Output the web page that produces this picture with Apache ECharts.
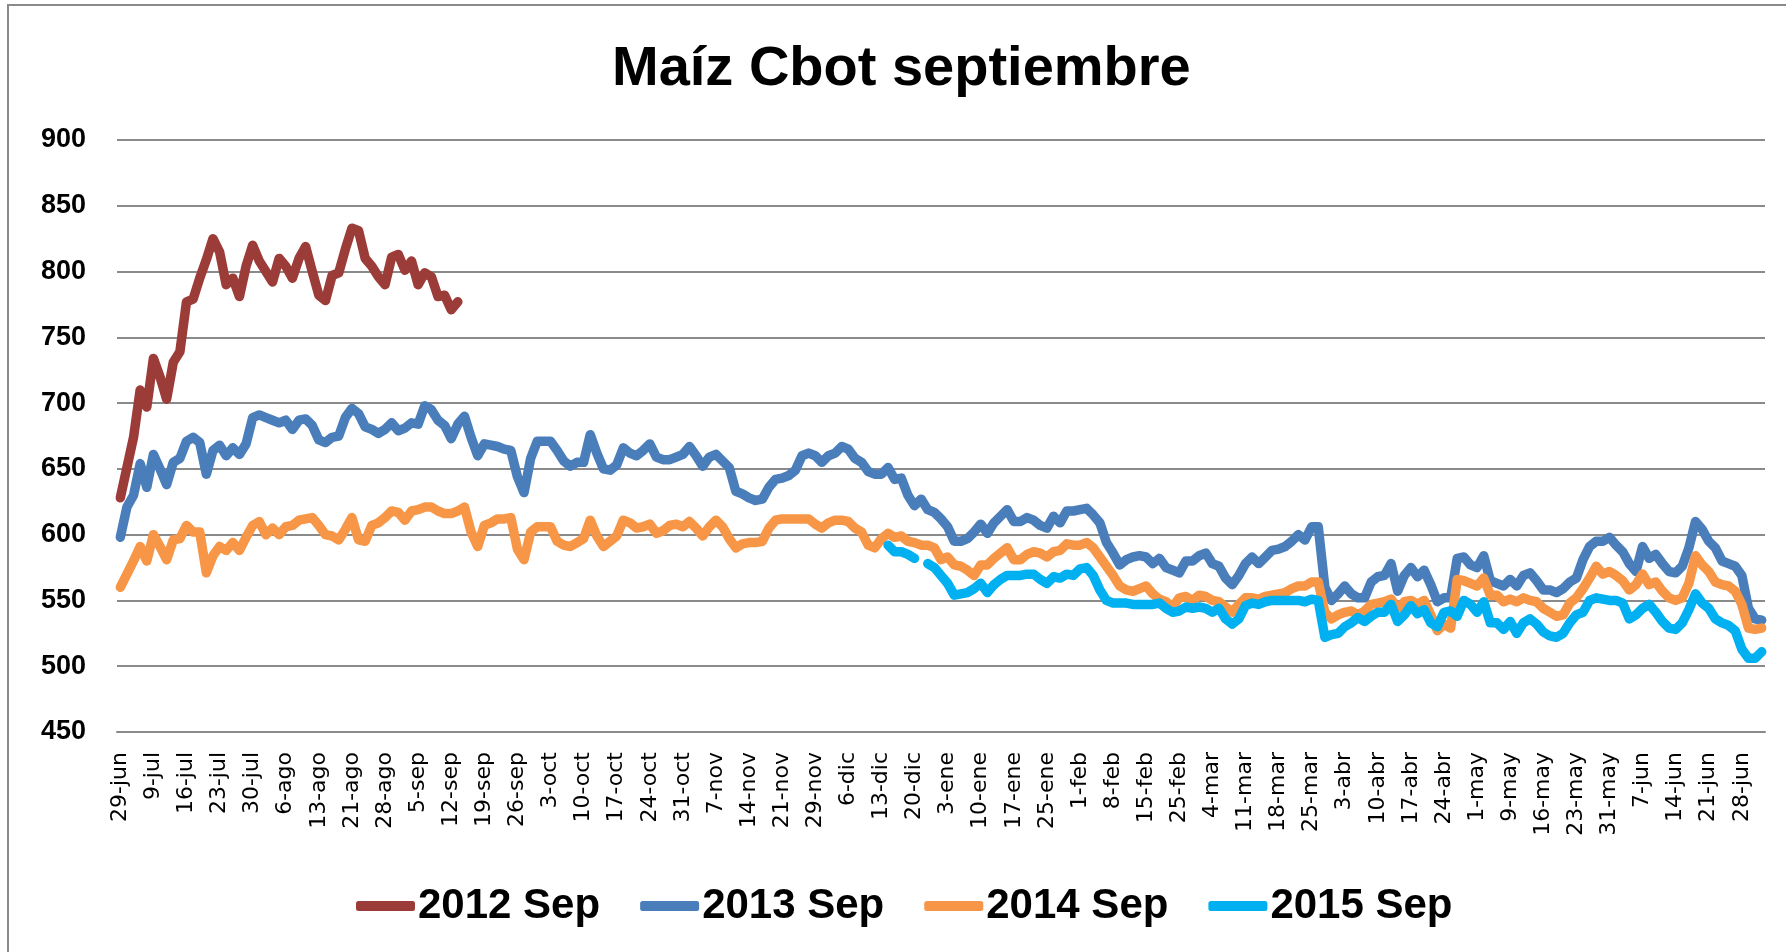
<!DOCTYPE html>
<html>
<head>
<meta charset="utf-8">
<title>Maíz Cbot septiembre</title>
<script src="https://cdn.jsdelivr.net/npm/echarts/dist/echarts.min.js"></script>
<style>
  html, body { margin: 0; padding: 0; background: #fff; }
  #chart { width: 1786px; height: 952px; }
</style>
</head>
<body>
<div id="chart"></div>
<script>
  // etiquetas del eje x (una cada 5 ruedas)
  const tickLabels = ['29-jun', '9-jul', '16-jul', '23-jul', '30-jul', '6-ago', '13-ago', '21-ago', '28-ago', '5-sep',
    '12-sep', '19-sep', '26-sep', '3-oct', '10-oct', '17-oct', '24-oct', '31-oct', '7-nov', '14-nov',
    '21-nov', '29-nov', '6-dic', '13-dic', '20-dic', '3-ene', '10-ene', '17-ene', '25-ene', '1-feb',
    '8-feb', '15-feb', '25-feb', '4-mar', '11-mar', '18-mar', '25-mar', '3-abr', '10-abr', '17-abr',
    '24-abr', '1-may', '9-may', '16-may', '23-may', '31-may', '7-jun', '14-jun', '21-jun', '28-jun']
  const dayCount = 249

  const sep2012 = [628, 651, 674, 710, 697, 734, 720, 703, 731, 739, 777, 779, 795, 809, 825, 815, 790, 795, 781, 804,
    820, 808, 800, 792, 810, 804, 795, 810, 819, 800, 782, 778, 797, 799, 817, 833, 831, 810, 804, 796,
    790, 811, 813, 801, 808, 790, 799, 796, 781, 782, 771, 777]

  const sep2013 = [598, 621, 630, 654, 636, 661, 650, 638, 655, 658, 671, 674, 670, 646, 664, 668, 660, 666, 661, 669,
    689, 691, 689, 687, 685, 687, 680, 687, 688, 683, 672, 670, 674, 675, 689, 696, 692, 682, 680, 677,
    680, 685, 679, 681, 685, 684, 698, 695, 687, 683, 673, 684, 690, 674, 660, 669, 668, 667, 665, 664,
    644, 632, 658, 671, 671, 671, 664, 656, 652, 655, 655, 676, 662, 650, 649, 653, 666, 662, 660, 664,
    669, 659, 657, 657, 659, 661, 667, 660, 652, 659, 661, 656, 651, 633, 631, 628, 626, 627, 636, 642,
    643, 645, 649, 660, 662, 660, 655, 660, 662, 667, 665, 658, 655, 648, 646, 646, 651, 642, 643, 630,
    622, 627, 619, 617, 612, 606, 595, 595, 597, 602, 608, 601, 609, 614, 619, 610, 610, 613, 611, 607,
    605, 614, 609, 618, 618, 619, 620, 615, 609, 594, 586, 577, 581, 583, 584, 583, 578, 582, 575, 573,
    571, 580, 580, 584, 586, 578, 576, 567, 562, 569, 578, 583, 578, 583, 588, 589, 591, 595, 600, 596,
    606, 606, 560, 550, 555, 561, 555, 552, 552, 564, 568, 569, 578, 557, 569, 575, 568, 573, 562, 549,
    552, 552, 582, 583, 577, 575, 584, 565, 563, 561, 566, 561, 569, 571, 565, 558, 558, 556, 559, 564,
    567, 581, 591, 595, 595, 598, 592, 587, 578, 572, 591, 582, 585, 578, 572, 571, 576, 590, 610, 604,
    595, 590, 580, 578, 576, 569, 544, 536, 535]

  const sep2014 = [560, 570, 580, 591, 580, 600, 591, 581, 596, 597, 607, 602, 602, 571, 584, 591, 588, 594, 588, 598,
    607, 610, 600, 605, 600, 606, 607, 611, 612, 613, 607, 600, 599, 596, 604, 613, 596, 595, 607, 609,
    613, 618, 617, 611, 618, 619, 621, 621, 618, 616, 616, 618, 621, 602, 591, 607, 609, 612, 612, 613,
    589, 581, 602, 606, 606, 606, 595, 592, 591, 594, 597, 611, 599, 591, 595, 599, 611, 609, 605, 606,
    608, 601, 603, 607, 608, 606, 610, 605, 599, 606, 611, 606, 597, 590, 593, 594, 594, 595, 605, 611,
    612, 612, 612, 612, 612, 608, 605, 609, 611, 611, 610, 605, 602, 592, 590, 597, 601, 598, 599, 595,
    594, 592, 592, 590, 581, 583, 577, 576, 573, 569, 577, 577, 582, 586, 590, 581, 581, 585, 587, 586,
    583, 587, 588, 593, 592, 592, 594, 590, 583, 576, 569, 561, 558, 557, 559, 561, 555, 551, 549, 545,
    552, 553, 550, 554, 553, 550, 549, 545, 541, 547, 552, 552, 551, 553, 554, 555, 556, 559, 561, 561,
    564, 564, 541, 536, 539, 541, 542, 539, 542, 547, 548, 549, 551, 544, 549, 550, 547, 550, 539, 527,
    532, 529, 566, 565, 563, 561, 567, 554, 554, 549, 551, 549, 552, 550, 549, 544, 541, 538, 539, 548,
    552, 559, 567, 576, 570, 572, 569, 565, 558, 562, 570, 562, 564, 557, 552, 550, 552, 563, 584, 577,
    572, 564, 562, 561, 557, 547, 529, 528, 529]

  // 2015 empieza más tarde (null = sin cotización)
  const start2015 = 116
  const sep2015 = [592, 587, 587, 585, 582, null, 578, 575, 569, 563, 554, 555, 556, 559, 563, 556, 562, 566, 569, 569,
    569, 570, 570, 566, 563, 568, 567, 570, 569, 574, 575, 569, 558, 550, 548, 548, 548, 547, 547, 547,
    547, 548, 544, 541, 542, 545, 544, 545, 544, 541, 544, 536, 532, 536, 546, 548, 547, 549, 550, 550,
    550, 550, 550, 549, 551, 550, 522, 524, 525, 530, 533, 537, 534, 538, 541, 541, 547, 534, 539, 546,
    540, 543, 533, 530, 541, 542, 538, 550, 547, 541, 549, 533, 533, 528, 534, 525, 533, 536, 532, 526,
    523, 522, 525, 533, 539, 541, 550, 552, 551, 550, 550, 548, 536, 539, 544, 547, 541, 534, 529, 528,
    533, 543, 555, 548, 544, 536, 533, 531, 527, 513, 506, 506, 511]

  const yTicks = { min: 450, max: 900, step: 50 }

  const categories = []
  for (let i = 0; i < dayCount; i++) {
    categories.push(i % 5 === 0 ? tickLabels[i / 5] : ' '.repeat(1 + (i % 5)) + i)
  }
  const data2015 = new Array(start2015).fill(null).concat(sep2015)

  const chart = echarts.init(document.getElementById('chart'))

  const lineSeries = (name, data, color) => ({
    name: name,
    type: 'line',
    data: data,
    symbol: 'none',
    connectNulls: false,
    animation: false,
    itemStyle: { color: color },
    lineStyle: { color: color, width: 9.5, cap: 'round', join: 'round' }
  })

  chart.setOption({
    backgroundColor: '#fff',
    title: {
      text: 'Maíz Cbot septiembre',
      left: 607,
      top: 37,
      textStyle: {
        fontFamily: 'Liberation Sans',
        fontWeight: 'bold',
        fontSize: 56,
        color: '#000'
      }
    },
    graphic: [{
      type: 'polyline',
      shape: { points: [[8, 952], [8, 5], [1786, 5]] },
      style: { stroke: '#8a8a8a', lineWidth: 2, fill: null }
    }],
    legend: {
      data: ['2012 Sep', '2013 Sep', '2014 Sep', '2015 Sep'],
      left: 351,
      top: 880,
      icon: 'roundRect',
      itemWidth: 59,
      itemHeight: 10,
      itemGap: 40,
      textStyle: {
        fontFamily: 'Liberation Sans',
        fontWeight: 'bold',
        fontSize: 42,
        color: '#000',
        padding: [0, 0, 0, -2]
      }
    },
    grid: {
      left: 117,
      right: 21,
      top: 140,
      bottom: 220,
      containLabel: false
    },
    xAxis: {
      type: 'category',
      data: categories,
      boundaryGap: true,
      axisLine: { show: true, lineStyle: { color: '#8a8a8a', width: 2 } },
      axisTick: { show: false },
      axisLabel: {
        interval: 4,
        rotate: 90,
        margin: 20,
        fontFamily: 'DejaVu Sans',
        fontSize: 22,
        color: '#000'
      }
    },
    yAxis: {
      type: 'value',
      min: yTicks.min,
      max: yTicks.max,
      interval: yTicks.step,
      axisLine: { show: false },
      axisTick: { show: false },
      splitLine: { lineStyle: { color: '#8a8a8a', width: 2 } },
      axisLabel: {
        margin: 31,
        fontFamily: 'Liberation Sans',
        fontWeight: 'bold',
        fontSize: 27,
        color: '#000'
      }
    },
    series: [
      lineSeries('2012 Sep', sep2012, '#9c3c39'),
      lineSeries('2013 Sep', sep2013, '#4a7ebb'),
      lineSeries('2014 Sep', sep2014, '#f79646'),
      lineSeries('2015 Sep', data2015, '#00b0f0')
    ]
  })
</script>
</body>
</html>
